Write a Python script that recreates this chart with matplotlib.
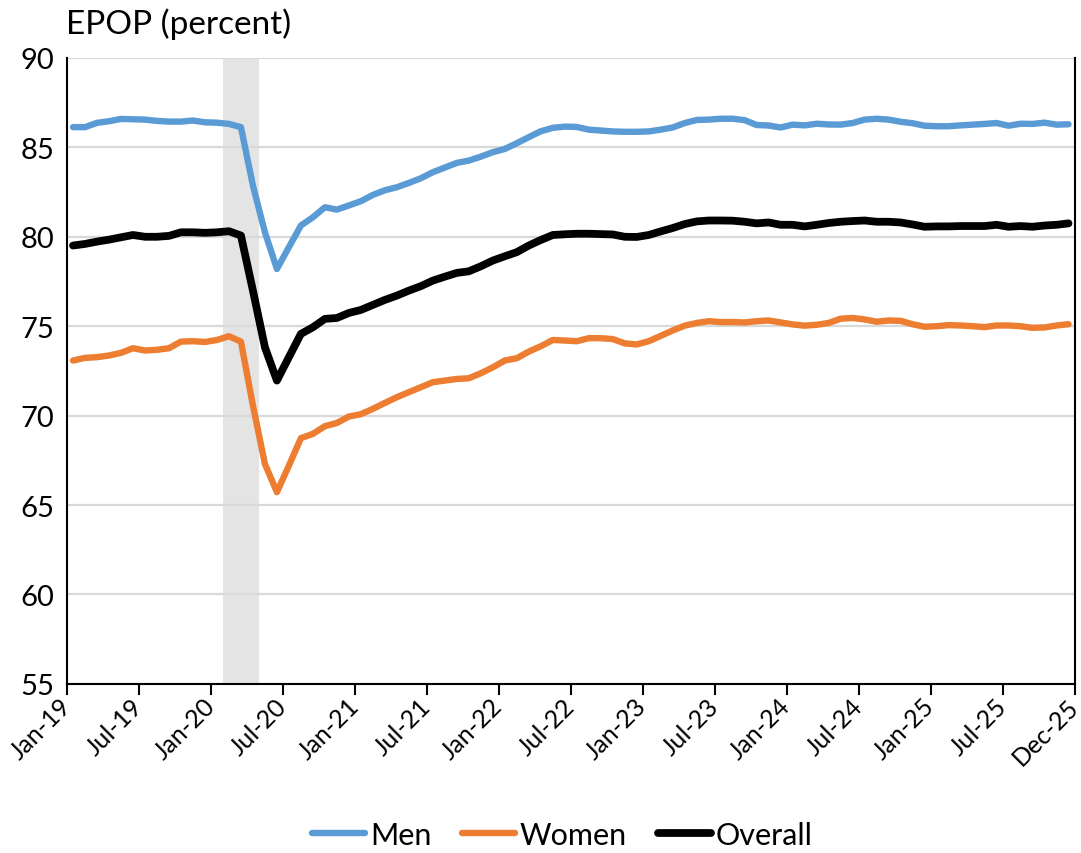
import numpy as np
import matplotlib
matplotlib.use("Agg")
from matplotlib import pyplot as plt

# monthly, Jan-19 .. Dec-25
men = [86.13, 86.13, 86.37, 86.46, 86.59, 86.57, 86.55, 86.48, 86.44, 86.44,
       86.50, 86.40, 86.38, 86.31, 86.13, 82.86, 80.25, 78.20, 79.42, 80.63,
       81.09, 81.65, 81.52, 81.75, 81.99, 82.34, 82.60, 82.77, 83.01, 83.27,
       83.61, 83.87, 84.13, 84.26, 84.48, 84.73, 84.91, 85.23, 85.57, 85.90,
       86.09, 86.16, 86.14, 85.99, 85.94, 85.89, 85.87, 85.87, 85.89, 85.99,
       86.11, 86.36, 86.53, 86.55, 86.60, 86.60, 86.52, 86.25, 86.22, 86.11,
       86.27, 86.23, 86.32, 86.28, 86.27, 86.36, 86.55, 86.60, 86.55, 86.43,
       86.35, 86.21, 86.18, 86.18, 86.23, 86.27, 86.31, 86.36, 86.21, 86.32,
       86.31, 86.38, 86.27, 86.29]

women = [73.08, 73.23, 73.27, 73.36, 73.51, 73.77, 73.64, 73.68, 73.77, 74.14,
         74.16, 74.12, 74.23, 74.44, 74.14, 70.56, 67.30, 65.72, 67.21, 68.74,
         68.98, 69.41, 69.59, 69.95, 70.08, 70.38, 70.71, 71.03, 71.31, 71.59,
         71.87, 71.96, 72.05, 72.09, 72.37, 72.70, 73.08, 73.21, 73.58, 73.88,
         74.23, 74.20, 74.16, 74.33, 74.33, 74.28, 74.04, 73.98, 74.16, 74.46,
         74.76, 75.03, 75.18, 75.28, 75.23, 75.23, 75.21, 75.28, 75.32, 75.21,
         75.10, 75.03, 75.08, 75.18, 75.42, 75.46, 75.38, 75.25, 75.32, 75.30,
         75.11, 74.97, 75.00, 75.06, 75.04, 75.00, 74.95, 75.04, 75.04, 75.00,
         74.91, 74.93, 75.04, 75.11]

overall = [79.51, 79.60, 79.73, 79.84, 79.97, 80.10, 80.00, 80.00, 80.05, 80.25,
           80.25, 80.22, 80.25, 80.31, 80.07, 76.99, 73.82, 71.96, 73.27, 74.57,
           74.94, 75.41, 75.46, 75.74, 75.91, 76.19, 76.47, 76.71, 76.99, 77.24,
           77.55, 77.77, 77.98, 78.07, 78.35, 78.67, 78.91, 79.14, 79.51, 79.82,
           80.10, 80.14, 80.17, 80.17, 80.15, 80.13, 80.00, 79.99, 80.10, 80.30,
           80.49, 80.71, 80.86, 80.91, 80.91, 80.90, 80.84, 80.75, 80.80, 80.67,
           80.67, 80.58, 80.67, 80.77, 80.84, 80.88, 80.91, 80.84, 80.84, 80.80,
           80.69, 80.56, 80.58, 80.58, 80.60, 80.60, 80.60, 80.67, 80.56, 80.60,
           80.56, 80.63, 80.67, 80.75]

tick_labels = ['Jan-19', 'Jul-19', 'Jan-20', 'Jul-20', 'Jan-21', 'Jul-21', 'Jan-22',
               'Jul-22', 'Jan-23', 'Jul-23', 'Jan-24', 'Jul-24', 'Jan-25', 'Jul-25',
               'Dec-25']

# recession months (Feb-20 .. Apr-20), as month indices
recession_start = 13
recession_end = 16

plt.rcParams['font.family'] = ['Lato', 'DejaVu Sans']

fig = plt.figure(figsize=(10.81, 8.54), dpi=100)
ax = fig.add_axes([0.062, 0.198, 0.932, 0.733])

n = len(men)
x = np.arange(n) + 0.5

ax.axvspan(recession_start, recession_end, color='#e4e4e4', lw=0, zorder=0)

ax.plot(x, men, color='#5b9bd5', lw=4.6, solid_capstyle='round',
        solid_joinstyle='round', label='Men', zorder=3)
ax.plot(x, women, color='#ed7d31', lw=4.6, solid_capstyle='round',
        solid_joinstyle='round', label='Women', zorder=3)
ax.plot(x, overall, color='black', lw=5.6, solid_capstyle='round',
        solid_joinstyle='round', label='Overall', zorder=4)

ax.set_xlim(0, n)
ax.set_ylim(55, 90)
ax.set_yticks(np.arange(55, 91, 5))
ax.yaxis.grid(True, color='#d9d9d9', lw=1.6)
ax.set_axisbelow(True)

ticks = list(range(0, n + 1, 6))
ax.set_xticks(ticks)
ax.set_xticklabels(tick_labels, rotation=45, ha='right', va='center',
                   rotation_mode='anchor')

ax.tick_params(axis='x', length=8, width=1.5, direction='out', labelsize=18, pad=5)
ax.tick_params(axis='y', length=0, labelsize=21, pad=9)

for side in ['left', 'bottom', 'right']:
    ax.spines[side].set_linewidth(1.5)
    ax.spines[side].set_color('black')
ax.spines['top'].set_visible(False)

fig.text(0.061, 0.972, 'EPOP (percent)', fontsize=24, ha='left', va='center')

fig.legend(loc='center', bbox_to_anchor=(0.52, 0.021), ncol=3, frameon=False,
           fontsize=22, handlelength=1.75, handletextpad=0.15, columnspacing=1.0)

fig.savefig('out.png', dpi=100)
